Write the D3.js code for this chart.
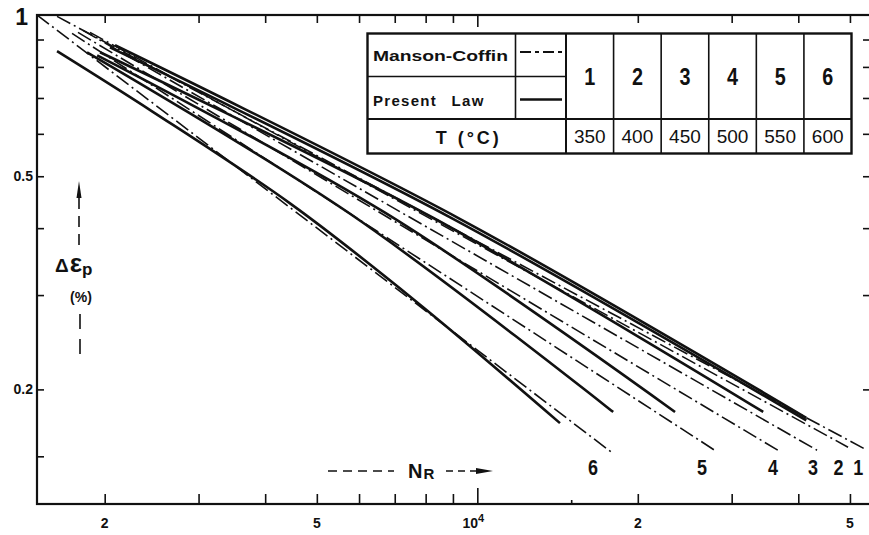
<!DOCTYPE html>
<html>
<head>
<meta charset="utf-8">
<script src="https://cdn.jsdelivr.net/npm/d3@7"></script>
<style>
  body { margin: 0; background: #fff; }
  text { font-family: "Liberation Sans", Arial, sans-serif; fill: #111; }
  .cond { font-weight: bold; }
</style>
</head>
<body>
<div id="chart"></div>
<script>
var svgWidth = 869;
var svgHeight = 535;
var margin = {top: 15, right: -2, bottom: 31, left: 37};
var width = svgWidth - margin.left - margin.right;
var height = svgHeight - margin.top - margin.bottom;

// curves 1..6 and their temperatures
var curveIds = ["1", "2", "3", "4", "5", "6"];
var temperatures = [350, 400, 450, 500, 550, 600];

// Manson-Coffin straight lines, [N_R, strain %] end points
var mansonCoffin = [
  [[1628, 0.994], [53830, 0.154]],
  [[1877, 0.928], [49590, 0.156]],
  [[1821, 0.936], [43370, 0.154]],
  [[1782, 0.928], [36810, 0.1535]],
  [[1737, 0.924], [28150, 0.153]],
  [[1493, 1.0], [17800, 0.153]]
];

// Present law curves
var presentLaw = [
  [[2091, 0.878], [9289, 0.416], [41400, 0.177]],
  [[2046, 0.870], [8895, 0.419], [41400, 0.175]],
  [[1960, 0.852], [8157, 0.421], [34380, 0.1815]],
  [[1936, 0.841], [6722, 0.427], [23490, 0.1815]],
  [[1853, 0.852], [5780, 0.425], [17980, 0.1815]],
  [[1628, 0.856], [2454, 0.661], [4453, 0.445], [7706, 0.291], [14290, 0.173]]
];

// where the curve numbers sit along N_R
var curveLabelN = [51800, 47600, 42630, 35860, 26390, 16480];

var xMinorTicks = [2000, 3000, 4000, 5000, 6000, 7000, 8000, 9000, 20000, 30000, 40000, 50000];
var xMajorTicks = [10000];
var xSmallTicks = [15000];
var xTickLabels = [[2000, "2"], [5000, "5"], [20000, "2"], [50000, "5"]];
var yTicks = [0.15, 0.2, 0.3, 0.4, 0.5, 0.6, 0.7, 0.8, 0.9];
var yTickLabels = [[0.5, "0.5"], [0.2, "0.2"]];

var svg = d3.select("#chart").append("svg")
  .attr("width", svgWidth)
  .attr("height", svgHeight);

var chartGroup = svg.append("g")
  .attr("transform", "translate(" + margin.left + "," + margin.top + ")");

var x = d3.scaleLog().domain([1493, 54760]).range([0, width]);
var y = d3.scaleLog().domain([0.1222, 1]).range([height, 0]);

// frame
chartGroup.append("rect")
  .attr("width", width).attr("height", height)
  .attr("fill", "none").attr("stroke", "#111").attr("stroke-width", 2.2);

function styleAxis(g) {
  g.select(".domain").remove();
  g.selectAll(".tick line").attr("stroke", "#111").attr("stroke-width", 1.6);
}

// bottom ticks (pointing in)
chartGroup.append("g").attr("transform", "translate(0," + height + ")")
  .call(d3.axisBottom(x).tickValues(xMinorTicks).tickSize(-10).tickFormat("")).call(styleAxis);
chartGroup.append("g").attr("transform", "translate(0," + height + ")")
  .call(d3.axisBottom(x).tickValues(xMajorTicks).tickSize(-16).tickFormat("")).call(styleAxis);
chartGroup.append("g").attr("transform", "translate(0," + height + ")")
  .call(d3.axisBottom(x).tickValues(xSmallTicks).tickSize(-4).tickFormat("")).call(styleAxis);
// top ticks
chartGroup.append("g")
  .call(d3.axisTop(x).tickValues(xMinorTicks).tickSize(-8).tickFormat("")).call(styleAxis);
chartGroup.append("g")
  .call(d3.axisTop(x).tickValues(xMajorTicks).tickSize(-12).tickFormat("")).call(styleAxis);
// left and right ticks
chartGroup.append("g")
  .call(d3.axisLeft(y).tickValues(yTicks).tickSize(-7).tickFormat("")).call(styleAxis);
chartGroup.append("g").attr("transform", "translate(" + width + ",0)")
  .call(d3.axisRight(y).tickValues(yTicks.slice(1)).tickSize(-8).tickFormat("")).call(styleAxis);

// x tick labels
chartGroup.selectAll(".xlab").data(xTickLabels).enter().append("text")
  .attr("x", function(d) { return x(d[0]); })
  .attr("y", height + 24)
  .attr("text-anchor", "middle")
  .style("font-size", "14px").style("font-weight", "bold")
  .text(function(d) { return d[1]; });
var tenLabel = chartGroup.append("text")
  .attr("x", x(xMajorTicks[0]) - 4).attr("y", height + 24)
  .attr("text-anchor", "middle")
  .style("font-size", "14px").style("font-weight", "bold");
tenLabel.append("tspan").text("10");
tenLabel.append("tspan").attr("dy", -6).style("font-size", "11px").text("4");

// y tick labels
chartGroup.selectAll(".ylab").data(yTickLabels).enter().append("text")
  .attr("x", -4)
  .attr("y", function(d) { return y(d[0]) + 5; })
  .attr("text-anchor", "end")
  .style("font-size", "14px").style("font-weight", "bold")
  .text(function(d) { return d[1]; });
chartGroup.append("text")
  .attr("x", -9).attr("y", y(1) + 10)
  .attr("text-anchor", "end")
  .style("font-size", "23px").style("font-weight", "bold")
  .text("1");

// clip for curves
chartGroup.append("clipPath").attr("id", "plotclip")
  .append("rect").attr("width", width).attr("height", height);

var line = d3.line()
  .x(function(d) { return x(d[0]); })
  .y(function(d) { return y(d[1]); });
var curveLine = d3.line()
  .x(function(d) { return x(d[0]); })
  .y(function(d) { return y(d[1]); })
  .curve(d3.curveCatmullRom);

var lines = chartGroup.append("g").attr("clip-path", "url(#plotclip)");

lines.selectAll(".mc").data(mansonCoffin).enter().append("path")
  .attr("d", line)
  .attr("fill", "none").attr("stroke", "#111")
  .attr("stroke-width", 1.6)
  .attr("stroke-dasharray", "15,4,2,4");

lines.selectAll(".pl").data(presentLaw).enter().append("path")
  .attr("d", curveLine)
  .attr("fill", "none").attr("stroke", "#111")
  .attr("stroke-width", 2.6);

// curve numbers (narrow bold digits)
chartGroup.selectAll(".cnum").data(curveIds).enter().append("text")
  .attr("class", "cond")
  .attr("x", function(d, i) { return x(curveLabelN[i]) - 5; })
  .attr("y", 460)
  .attr("textLength", 10).attr("lengthAdjust", "spacingAndGlyphs")
  .style("font-size", "22px")
  .text(function(d) { return d; });

// y axis title with dashed arrow
svg.append("line").attr("x1", 79).attr("x2", 79).attr("y1", 198).attr("y2", 250)
  .attr("stroke", "#111").attr("stroke-width", 1.6).attr("stroke-dasharray", "11,7");
svg.append("path").attr("d", "M79,181 L76.5,198 L81.5,198 Z").attr("fill", "#111");
svg.append("line").attr("x1", 80).attr("x2", 80).attr("y1", 314).attr("y2", 358)
  .attr("stroke", "#111").attr("stroke-width", 1.6).attr("stroke-dasharray", "15,10");
var yTitle = svg.append("text").attr("x", 55).attr("y", 272).style("font-weight", "bold");
yTitle.append("tspan").style("font-size", "19px").text("Δ");
yTitle.append("tspan").style("font-size", "26px").attr("dx", 1).text("ε");
yTitle.append("tspan").style("font-size", "17px").attr("dy", 3).text("p");
svg.append("text").attr("x", 81).attr("y", 302).attr("text-anchor", "middle")
  .style("font-size", "14px").style("font-weight", "bold").text("(%)");

// x axis title with dashed arrow
svg.append("line").attr("x1", 328).attr("x2", 394).attr("y1", 471).attr("y2", 471)
  .attr("stroke", "#111").attr("stroke-width", 1.5).attr("stroke-dasharray", "9,6");
var xTitle = svg.append("text").attr("x", 408).attr("y", 478).style("font-weight", "bold");
xTitle.append("tspan").style("font-size", "20px").text("N");
xTitle.append("tspan").style("font-size", "15px").attr("dx", 1).attr("dy", 1).text("R");
svg.append("line").attr("x1", 446).attr("x2", 480).attr("y1", 471).attr("y2", 471)
  .attr("stroke", "#111").attr("stroke-width", 1.5).attr("stroke-dasharray", "7,5");
svg.append("path").attr("d", "M493,471 L476,468 L476,474 Z").attr("fill", "#111");

// legend table
var table = svg.append("g");
var tLeft = 367.5, tRight = 851.5, tTop = 33.5, tBottom = 153.5;
var rowMid = 76.5, rowT = 119;
var colLegend = 515.5, colNums = 566;
var cols = d3.scaleBand().domain(curveIds).range([colNums, tRight]);

table.append("rect")
  .attr("x", tLeft).attr("y", tTop)
  .attr("width", tRight - tLeft).attr("height", tBottom - tTop)
  .attr("fill", "#fff").attr("stroke", "#111").attr("stroke-width", 2.4);
function tline(x1, y1, x2, y2, w) {
  table.append("line").attr("x1", x1).attr("y1", y1).attr("x2", x2).attr("y2", y2)
    .attr("stroke", "#111").attr("stroke-width", w);
}
tline(tLeft, rowT, tRight, rowT, 2.2);
tline(tLeft, rowMid, colNums, rowMid, 1.6);
tline(colLegend, tTop, colLegend, rowT, 1.6);
tline(colNums, tTop, colNums, tBottom, 2);
curveIds.slice(1).forEach(function(id) {
  tline(cols(id), tTop, cols(id), tBottom, 1.6);
});

table.append("text").attr("x", 373).attr("y", 61)
  .attr("textLength", 135).attr("lengthAdjust", "spacingAndGlyphs")
  .style("font-size", "15px").style("font-weight", "bold").text("Manson-Coffin");
table.append("text").attr("x", 373).attr("y", 106)
  .style("font-size", "15px").style("font-weight", "bold")
  .style("letter-spacing", "1.3px").style("word-spacing", "9px").text("Present Law");
table.append("line").attr("x1", 520).attr("x2", 562).attr("y1", 52).attr("y2", 52)
  .attr("stroke", "#111").attr("stroke-width", 1.8).attr("stroke-dasharray", "11,4,4,4");
table.append("line").attr("x1", 520).attr("x2", 562).attr("y1", 99.5).attr("y2", 99.5)
  .attr("stroke", "#111").attr("stroke-width", 2.6);
table.append("text").attr("x", (tLeft + colNums) / 2 + 2).attr("y", 144)
  .attr("text-anchor", "middle").style("font-size", "18px").style("font-weight", "bold")
  .style("letter-spacing", "3px").text("T (°C)");

table.selectAll(".hnum").data(curveIds).enter().append("text")
  .attr("class", "cond")
  .attr("x", function(d) { return cols(d) + cols.bandwidth() / 2 - 5.5; })
  .attr("y", 85)
  .attr("textLength", 11).attr("lengthAdjust", "spacingAndGlyphs")
  .style("font-size", "24px")
  .text(function(d) { return d; });

table.selectAll(".tnum").data(temperatures).enter().append("text")
  .attr("x", function(d, i) { return cols(curveIds[i]) + cols.bandwidth() / 2; })
  .attr("y", 143)
  .attr("text-anchor", "middle")
  .style("font-size", "19px")
  .text(function(d) { return d; });
</script>
</body>
</html>
